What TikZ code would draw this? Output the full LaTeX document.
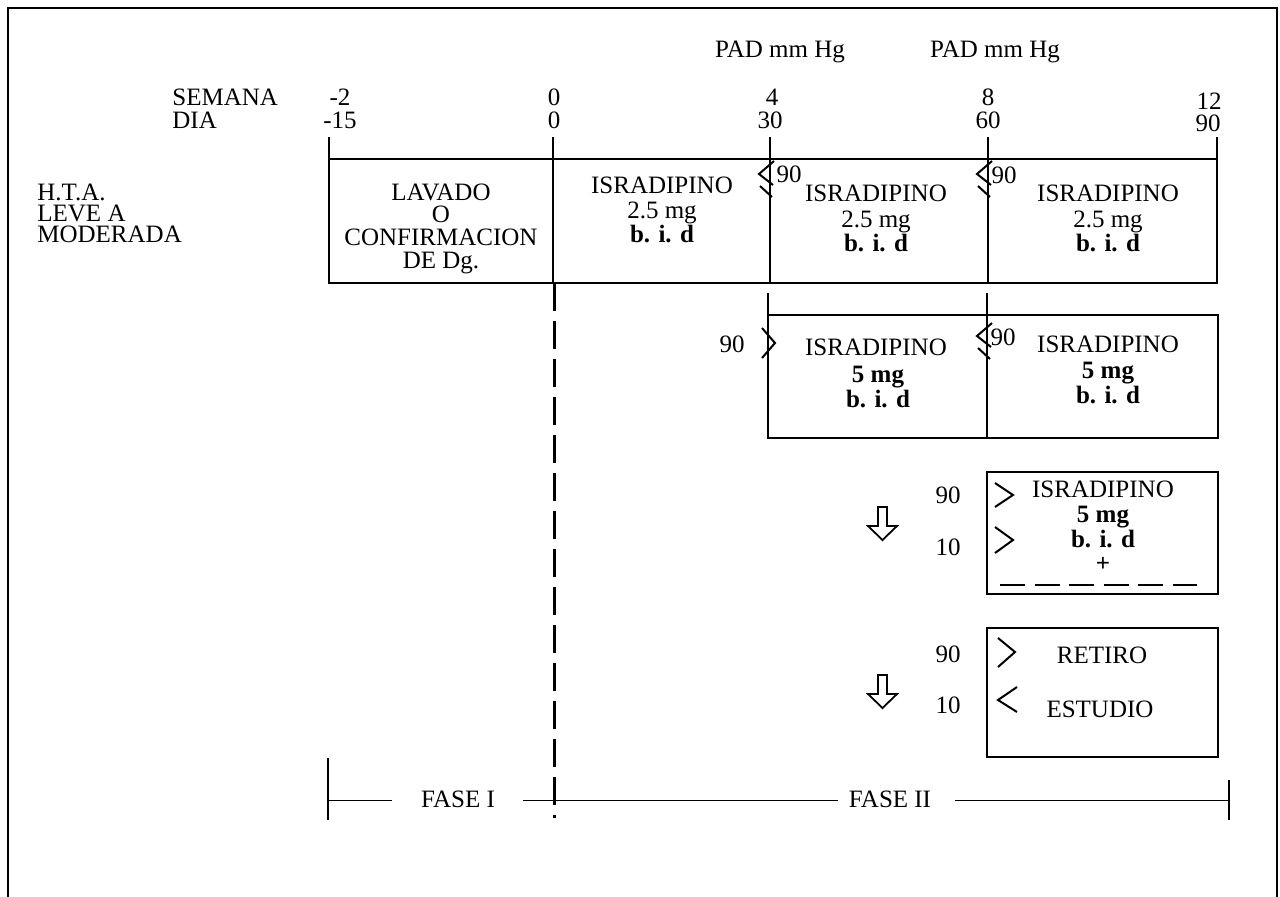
\documentclass[tikz,border=0pt]{standalone}
\usepackage{fontspec}
\setmainfont{Liberation Serif}
\newcommand\lesym[2]{%
  \draw[sym] (#1+4,#2) -- (#1-11,#2+13) -- (#1+3,#2+24);
  \draw[sym] (#1-10,#2+25) -- (#1+2,#2+36);
}
\begin{document}
\begin{tikzpicture}[x=0.5pt,y=-0.5pt,
  txt/.style={inner sep=0pt, anchor=base, font=\fontsize{12.5}{12.5}\selectfont},
  txtl/.style={txt, anchor=base west},
  bld/.style={txt, font=\fontsize{12.5}{12.5}\selectfont\bfseries},
  boxline/.style={line width=0.9pt},
  tick/.style={line width=0.7pt},
  frame/.style={line width=0.8pt},
  sym/.style={line width=1pt},
  thin/.style={line width=0.5pt},
  phase/.style={line width=1.5pt, dash pattern=on 14pt off 5pt},
  arrowshape/.style={line width=0.9pt, line join=miter}
]
\useasboundingbox (0,0) rectangle (1280,896);
% frame
\draw[frame] (8,905) -- (8,8) -- (1277,8) -- (1277,905);

% headers
\node[txt] (pad1) at (780,57) {PAD mm Hg};
\node[txt] (pad2) at (995,57) {PAD mm Hg};
\node[txtl] (sem) at (172,105) {SEMANA};
\node[txtl] (dia) at (172,128) {DIA};
\node[txt] (w1) at (340,105) {-2};   \node[txt] (d1) at (340,128) {-15};
\node[txt] (w2) at (554,105) {0};    \node[txt] (d2) at (554,128) {0};
\node[txt] (w3) at (772,105) {4};    \node[txt] (d3) at (770,128) {30};
\node[txt] (w4) at (988,105) {8};    \node[txt] (d4) at (988,128) {60};
\node[txt] (w5) at (1209,109) {12};  \node[txt] (d5) at (1208,131) {90};

\node[txtl] (hta) at (37,200) {H.T.A.};
\node[txtl] (leve) at (37,221) {LEVE A};
\node[txtl] (mod) at (37,242) {MODERADA};

% ticks
\foreach \xx in {329,553,770,988,1217} \draw[tick] (\xx,137) -- (\xx,159);

% box 1
\draw[boxline] (329,159) rectangle (1217,283);
\draw[tick] (553,159) -- (553,283);
\draw[tick] (770,159) -- (770,283);
\draw[tick] (988,159) -- (988,283);

\node[txt] (lav1) at (441,200) {LAVADO};
\node[txt] (lav2) at (441,222) {O};
\node[txt] (lav3) at (441,245) {CONFIRMACION};
\node[txt] (lav4) at (441,268) {DE Dg.};

\node[txt] (c2a) at (662,193) {ISRADIPINO};
\node[txt] (c2b) at (662,218) {2.5 mg};
\node[bld] (c2c) at (662,242) {b. i. d};

\node[txt] (c3a) at (876,201) {ISRADIPINO};
\node[txt] (c3b) at (876,227) {2.5 mg};
\node[bld] (c3c) at (876,251) {b. i. d};

\node[txt] (c4a) at (1108,201) {ISRADIPINO};
\node[txt] (c4b) at (1108,227) {2.5 mg};
\node[bld] (c4c) at (1108,251) {b. i. d};

\lesym{770}{161}
\node[txt] (n90a) at (789,182) {90};
\lesym{988}{161}
\node[txt] (n90b) at (1004,183) {90};

% box 2
\draw[boxline] (768,293) -- (768,438) -- (1218,438) -- (1218,315) -- (768,315);
\draw[tick] (987,293) -- (987,438);
\node[txt] (n90c) at (732,352) {90};
\draw[sym] (762,328) -- (775,343) -- (762,358);
\node[txt] (b2a) at (876,355) {ISRADIPINO};
\node[bld] (b2b) at (878,382) {5 mg};
\node[bld] (b2c) at (878,407) {b. i. d};
\lesym{988}{323}
\node[txt] (n90d) at (1003,345) {90};
\node[txt] (b3a) at (1108,352) {ISRADIPINO};
\node[bld] (b3b) at (1108,378) {5 mg};
\node[bld] (b3c) at (1108,403) {b. i. d};

% dashed phase divider
\draw[phase] (554,283) -- (554,818);

% box 3
\draw[boxline] (987,472) rectangle (1218,594);
\node[txt] (n90e) at (948,503) {90};
\node[txt] (n10e) at (948,555) {10};
\draw[sym] (995,483) -- (1013,495) -- (995,507);
\draw[sym] (995,527) -- (1013,540) -- (995,553);
\node[txt] (x3a) at (1103,497) {ISRADIPINO};
\node[bld] (x3b) at (1103,522) {5 mg};
\node[bld] (x3c) at (1103,547) {b. i. d};
\node[bld] (x3d) at (1103,571) {+};
\draw[line width=1pt, dash pattern=on 12.5pt off 4.75pt] (1000,585) -- (1197,585);
\draw[arrowshape] (878,507) -- (887,507) -- (887,526) -- (897,526) -- (882.5,540) -- (868,526) -- (878,526) -- cycle;

% box 4
\draw[boxline] (987,628) rectangle (1218,757);
\node[txt] (n90f) at (948,662) {90};
\node[txt] (n10f) at (948,713) {10};
\draw[sym] (998,638) -- (1015,652) -- (998,667);
\draw[sym] (1017,687) -- (998,700) -- (1017,712);
\node[txt] (ret) at (1102,663) {RETIRO};
\node[txt] (est) at (1100,717) {ESTUDIO};
\draw[arrowshape] (878,675) -- (887,675) -- (887,694) -- (897,694) -- (882.5,708) -- (868,694) -- (878,694) -- cycle;

% phases
\draw[tick] (328,758) -- (328,820);
\draw[tick] (1229,780) -- (1229,820);
\node[txt] (f1) at (458,807) {FASE I};
\node[txt] (f2) at (890,807) {FASE II};
\coordinate (pl) at (328,800);
\coordinate (pr) at (1229,800);
\draw[thin] (pl) -- (392,800);
\draw[thin] (523,800) -- (553,800);
\draw[thin] (553,800) -- (838,800);
\draw[thin] (955,800) -- (pr);
\end{tikzpicture}
\end{document}
